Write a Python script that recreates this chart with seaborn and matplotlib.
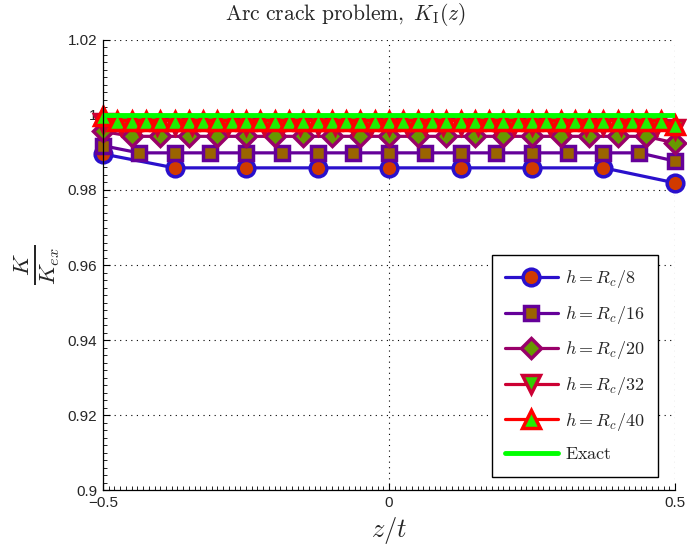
import numpy as np
import pandas as pd
import matplotlib
matplotlib.use("Agg")
import matplotlib.pyplot as plt
from matplotlib.ticker import MultipleLocator
import seaborn as sns

# Normalised stress intensity factor along the crack front
z8 = [-0.5, -0.375, -0.25, -0.125, 0.0, 0.125, 0.25, 0.375, 0.5]
k8 = [0.9896, 0.9859, 0.9859, 0.9859, 0.9859, 0.9859, 0.9859, 0.9859, 0.9819]

z16 = [-0.5, -0.4375, -0.375, -0.3125, -0.25, -0.1875, -0.125, -0.0625, 0.0,
       0.0625, 0.125, 0.1875, 0.25, 0.3125, 0.375, 0.4375, 0.5]
k16 = [0.9918, 0.9899, 0.9899, 0.9899, 0.9899, 0.9899, 0.9899, 0.9899, 0.9899,
       0.9899, 0.9899, 0.9899, 0.9899, 0.9899, 0.9899, 0.9899, 0.9877]

z20 = [-0.5, -0.45, -0.4, -0.35, -0.3, -0.25, -0.2, -0.15, -0.1, -0.05, 0.0,
       0.05, 0.1, 0.15, 0.2, 0.25, 0.3, 0.35, 0.4, 0.45, 0.5]
k20 = [0.9956, 0.9943, 0.9943, 0.9943, 0.9943, 0.9943, 0.9943, 0.9943, 0.9943, 0.9943, 0.9943,
       0.9943, 0.9943, 0.9943, 0.9943, 0.9943, 0.9943, 0.9943, 0.9943, 0.9943, 0.9925]

z32 = [-0.5, -0.46875, -0.4375, -0.40625, -0.375, -0.34375, -0.3125, -0.28125, -0.25,
       -0.21875, -0.1875, -0.15625, -0.125, -0.09375, -0.0625, -0.03125, 0.0,
       0.03125, 0.0625, 0.09375, 0.125, 0.15625, 0.1875, 0.21875, 0.25,
       0.28125, 0.3125, 0.34375, 0.375, 0.40625, 0.4375, 0.46875, 0.5]
k32 = [0.9978] + [0.9972] * 31 + [0.9962]

z40 = [-0.5, -0.475, -0.45, -0.425, -0.4, -0.375, -0.35, -0.325, -0.3, -0.275,
       -0.25, -0.225, -0.2, -0.175, -0.15, -0.125, -0.1, -0.075, -0.05, -0.025, 0.0,
       0.025, 0.05, 0.075, 0.1, 0.125, 0.15, 0.175, 0.2, 0.225, 0.25,
       0.275, 0.3, 0.325, 0.35, 0.375, 0.4, 0.425, 0.45, 0.475, 0.5]
k40 = [0.9996] + [0.9985] * 39 + [0.9973]

z_exact = [-0.5, 0.5]
k_exact = [1.0, 1.0]

labels = [r"$h=R_c/8$", r"$h=R_c/16$", r"$h=R_c/20$", r"$h=R_c/32$", r"$h=R_c/40$"]

sns.set_style("white")
plt.rcParams["font.family"] = ["Liberation Sans", "DejaVu Sans"]
plt.rcParams["mathtext.fontset"] = "cm"

fig = plt.figure(figsize=(6.87, 5.47), dpi=100)
ax = fig.add_axes([0.150, 0.104, 0.8325, 0.823])

styles = [
    dict(color="#2a10cc", marker="o", mfc="#d13a00", mec="#2a10cc", ms=12, mew=2.5),
    dict(color="#650099", marker="s", mfc="#9a6400", mec="#650099", ms=10.5, mew=2.5),
    dict(color="#99006a", marker="D", mfc="#679900", mec="#99006a", ms=10, mew=2.5),
    dict(color="#cc0033", marker="v", mfc="#33cc00", mec="#cc0033", ms=13, mew=2.5),
    dict(color="#ff0000", marker="^", mfc="#22ee00", mec="#ff0000", ms=13, mew=2.5),
]
series = [(z8, k8), (z16, k16), (z20, k20), (z32, k32), (z40, k40)]

for (zz, kk), lab, st in zip(series, labels, styles):
    df = pd.DataFrame({"z": zz, "K": kk})
    sns.lineplot(data=df, x="z", y="K", ax=ax, label=lab, lw=2.3,
                 markeredgecolor=st["mec"], markerfacecolor=st["mfc"],
                 color=st["color"], marker=st["marker"], markersize=st["ms"],
                 markeredgewidth=st["mew"], clip_on=False)

df_ex = pd.DataFrame({"z": z_exact, "K": k_exact})
sns.lineplot(data=df_ex, x="z", y="K", ax=ax, label=r"$\mathrm{Exact}$",
             color="#00ff00", lw=3.5)

ax.set_xlim(-0.5, 0.5)
ax.set_ylim(0.9, 1.02)
ax.set_xticks([-0.5, 0, 0.5])
ax.set_xticklabels(["\u22120.5", "0", "0.5"])
ax.set_yticks([0.9, 0.92, 0.94, 0.96, 0.98, 1.0, 1.02])
ax.set_yticklabels(["0.9", "0.92", "0.94", "0.96", "0.98", "1", "1.02"])
ax.xaxis.set_minor_locator(MultipleLocator(0.01))
ax.yaxis.set_minor_locator(MultipleLocator(0.002))
ax.tick_params(which="major", direction="in", length=5, width=0.8, labelsize=11,
               color="black", bottom=True, left=True, top=False, right=False)
ax.tick_params(axis="y", which="major", pad=4)
ax.tick_params(axis="x", which="major", pad=4)
ax.tick_params(which="minor", direction="in", length=3, width=0.6,
               color="black", bottom=True, left=True, top=False, right=False)
ax.grid(True, which="major", linestyle=(0, (1, 4)), color="black", lw=0.8)

for s in ["top", "right"]:
    ax.spines[s].set_visible(False)
for s in ["left", "bottom"]:
    ax.spines[s].set_color("black")
    ax.spines[s].set_linewidth(0.9)

ax.set_title(r"$\mathrm{Arc\ crack\ problem,}\ K_{\mathrm{I}}(z)$", fontsize=15.5,
             x=0.423, y=1.0, pad=14)
ax.set_xlabel(r"$z/t$", fontsize=19, labelpad=4)
ax.set_ylabel(r"$\frac{K}{K_{ex}}$", fontsize=24, labelpad=4)

leg = ax.legend(loc="lower right", bbox_to_anchor=(0.97, 0.03), fontsize=13,
                frameon=True, fancybox=False, edgecolor="black", framealpha=1,
                handlelength=2.9, labelspacing=0.75, borderpad=0.75, handletextpad=0.4,
                borderaxespad=0.0)
leg.get_frame().set_linewidth(1.0)

fig.savefig("out.png", dpi=100)
